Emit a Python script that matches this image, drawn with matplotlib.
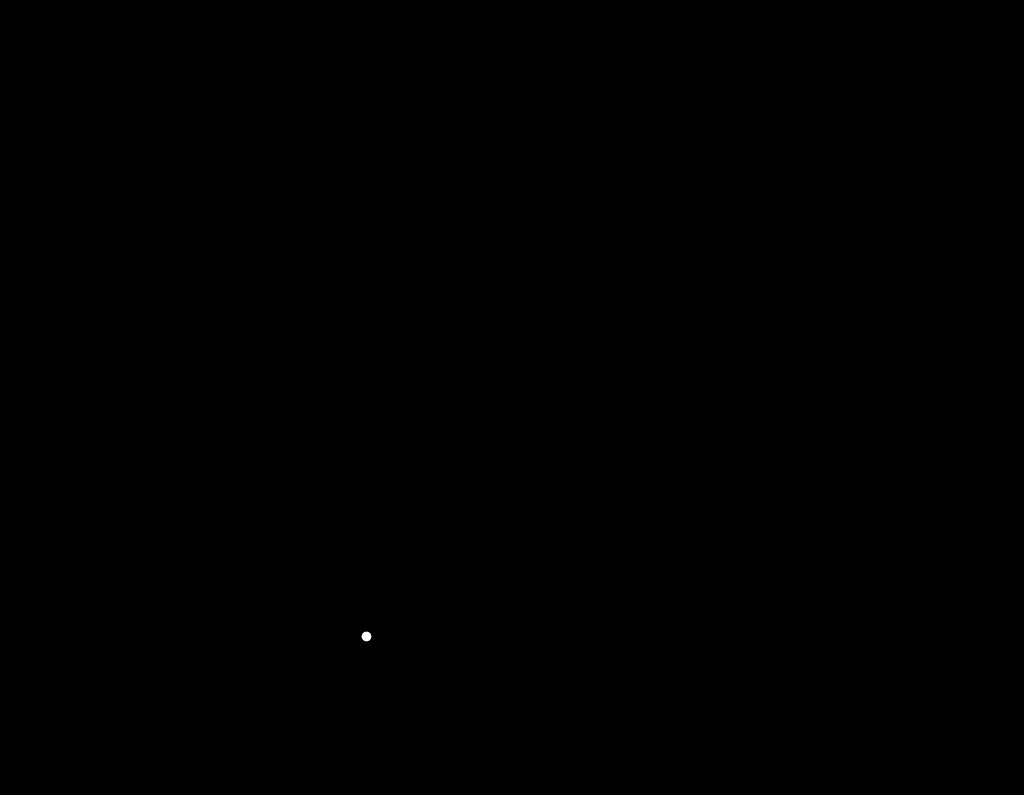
import matplotlib
matplotlib.use("Agg")
import matplotlib.pyplot as plt
import numpy as np

plt.rcParams['font.family'] = ['Liberation Serif', 'DejaVu Serif']
plt.rcParams['font.weight'] = 'bold'
plt.rcParams['mathtext.fontset'] = 'custom'
plt.rcParams['mathtext.rm'] = 'Liberation Serif:bold'
plt.rcParams['mathtext.it'] = 'Liberation Serif:bold'
plt.rcParams['mathtext.bf'] = 'Liberation Serif:bold'

# ---- data (read / estimated from the reference) ----
tick_labels = ["Kontroll", "10$^{-9}$", "10$^{-8}$", "10$^{-7}$", "10$^{-6}$", "10$^{-5}$"]
tick_pos = [-9.9, -9, -8, -7, -6, -5]
control_x = -9.9
conc_log = [-9, -8.5, -8, -7.5, -7, -6.5, -6, -5.5, -5]

# panel A
a_ctrl, a_ctrl_err = 4.0, 0.5
a_vals = [4.1, 4.2, 4.4, 4.7, 5.6, 8.0, 11.6, 7.9, 4.6]
a_err = [0.5, 0.5, 0.5, 0.6, 0.7, 0.9, 1.0, 0.8, 0.6]
a_sig_x = [-6, -5.5, -5]
a_sig_y = [12.9, 8.9, 5.4]

# panel B
b_ctrl, b_ctrl_err = 1.3, 0.1
b_vals = [1.3, 1.35, 1.4, 1.5, 1.7, 2.0, 2.35, 1.9, 1.5]
b_err = [0.1, 0.1, 0.1, 0.12, 0.14, 0.16, 0.18, 0.15, 0.13]
b_sig_x = [-6, -5.5]
b_sig_y = [2.6, 2.07]

# panel C
c_ctrl, c_ctrl_err = 1.35, 0.08
c_vals = [1.4, 1.45, 1.55, 1.8, 2.2, 2.8, 3.5, 3.4, 3.4]
c_err = [0.08, 0.08, 0.1, 0.12, 0.15, 0.16, 0.18, 0.16, 0.16]
c_sig_x = [-6.55, -6.05, -5.58, -5.05]
c_sig_y = [2.99, 3.73, 3.58, 3.58]

panels = [
    dict(rect=[68/1024, (795-300)/795, 403/1024, 238/795], ymax=20, yticks=[0, 5, 10, 15, 20],
         ylabel="Forkortning (%)", ctrl=a_ctrl, ctrl_err=a_ctrl_err, vals=a_vals, err=a_err,
         sx=a_sig_x, sy=a_sig_y, ctrl_color='black'),
    dict(rect=[610/1024, (795-300)/795, 403/1024, 237/795], ymax=5, yticks=[0, 1, 2, 3, 4, 5],
         ylabel="Ca$^{2+}$-amplitude\n(F/F$_0$)", ctrl=b_ctrl, ctrl_err=b_ctrl_err, vals=b_vals, err=b_err,
         sx=b_sig_x, sy=b_sig_y, ctrl_color='black'),
    dict(rect=[337/1024, (795-700)/795, 403/1024, 237/795], ymax=5, yticks=[0, 1, 2, 3, 4, 5],
         ylabel="Tid til topp\n(s)", ctrl=c_ctrl, ctrl_err=c_ctrl_err, vals=c_vals, err=c_err,
         sx=c_sig_x, sy=c_sig_y, ctrl_color='white'),
]

ink = 'black'
fig = plt.figure(figsize=(10.24, 7.95), dpi=100, facecolor='black')

for p in panels:
    ax = fig.add_axes(p['rect'])
    ax.set_facecolor('black')
    ax.errorbar(conc_log, p['vals'], yerr=p['err'], color=ink, marker='o', ms=6,
                capsize=3, lw=1.5)
    ax.errorbar([control_x], [p['ctrl']], yerr=[p['ctrl_err']], color=ink, capsize=3, lw=1.5, fmt='none')
    ax.plot([control_x], [p['ctrl']], marker='o', ms=6, color=p['ctrl_color'], ls='none')
    for sx, sy in zip(p['sx'], p['sy']):
        ax.text(sx, sy, '*', ha='center', va='center', fontsize=14, color=ink, fontweight='bold')
    ax.set_xlim(-10.3, -4.8)
    ax.set_ylim(0, p['ymax'])
    ax.set_yticks(p['yticks'])
    ax.set_xticks(tick_pos)
    ax.set_xticklabels(tick_labels)
    for s in ['top', 'right']:
        ax.spines[s].set_visible(False)
    ax.spines['bottom'].set_position(('outward', 23))
    for s in ['left', 'bottom']:
        ax.spines[s].set_color(ink)
        ax.spines[s].set_linewidth(1.5)
    ax.tick_params(colors=ink, labelsize=14.5, width=1.5, length=4, pad=3)
    for lab in ax.get_xticklabels() + ax.get_yticklabels():
        lab.set_fontweight('bold')
    ax.set_xlabel("Omecamtiv mecarbil (M)", fontsize=16.5, fontweight='bold', color=ink, labelpad=5)
    ax.set_ylabel(p['ylabel'], fontsize=15, fontweight='bold', color=ink, labelpad=8)

fig.savefig("out.png", dpi=100, facecolor=fig.get_facecolor())
